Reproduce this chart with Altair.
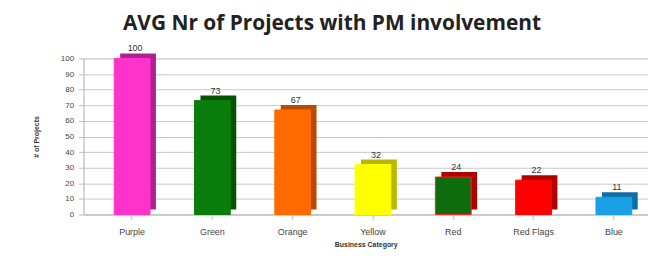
import altair as alt
import pandas as pd

categories = ["Purple", "Green", "Orange", "Yellow", "Red", "Red Flags", "Blue"]
values = [100, 73, 67, 32, 24, 22, 11]
front_colors = ["#FF33CC", "#0A7D0A", "#FF6A00", "#FFFF00", "#0E6B0E", "#FF0000", "#1AA0E6"]
side_colors = ["#B0208E", "#055205", "#B84B00", "#B8B800", "#B00000", "#B00000", "#0F6FA3"]
stroke_colors = ["#FF33CC", "#0A7D0A", "#FF6A00", "#FFFF00", "#FF2020", "#FF0000", "#1AA0E6"]

df = pd.DataFrame({
    "cat": categories,
    "val": values,
    "front": front_colors,
    "side": side_colors,
    "stroke": stroke_colors,
})

x = alt.X("cat:N", sort=categories, title="Business Category",
          scale=alt.Scale(paddingInner=0.55, paddingOuter=0.29, align=0.655),
          axis=alt.Axis(labelAngle=0, labelFontSize=9, labelColor="#444", titleFontSize=7,
                        titleFontWeight="bold", titleColor="#333", domainColor="#bbb",
                        tickColor="#bbb", labelPadding=8, titlePadding=4))
y = alt.Y("val:Q", title="# of Projects",
          scale=alt.Scale(domain=[0, 100], nice=False),
          axis=alt.Axis(values=list(range(0, 101, 10)), labelFontSize=8, labelColor="#444",
                        titleFontSize=7, titleFontWeight="bold", titleColor="#333",
                        gridColor="#c8c8c8", domainColor="#bbb", tickColor="#bbb",
                        labelPadding=5, titlePadding=21))

base = alt.Chart(df)

side = base.mark_bar(xOffset=6, yOffset=-5, size=36).encode(
    x=x, y=y, color=alt.Color("side:N", scale=None))
front = base.mark_bar(size=36, strokeWidth=1).encode(
    x=x, y=y, color=alt.Color("front:N", scale=None), stroke=alt.Stroke("stroke:N", scale=None))
labels = base.mark_text(dy=-10, dx=3, fontSize=9, color="#333").encode(
    x=x, y=y, text="val:Q")

chart = (side + front + labels).properties(
    width=568, height=157,
    padding={"left": 24, "right": 0, "top": 4, "bottom": 5},
    title=alt.Title("AVG Nr of Projects with PM involvement", fontSize=21,
                    fontWeight="bold", color="#222", font="Open Sans", offset=11, dx=-34),
).configure_view(stroke=None).configure(font="Liberation Sans")

chart.save("out.html", embed_options={"renderer": "svg", "actions": False})
